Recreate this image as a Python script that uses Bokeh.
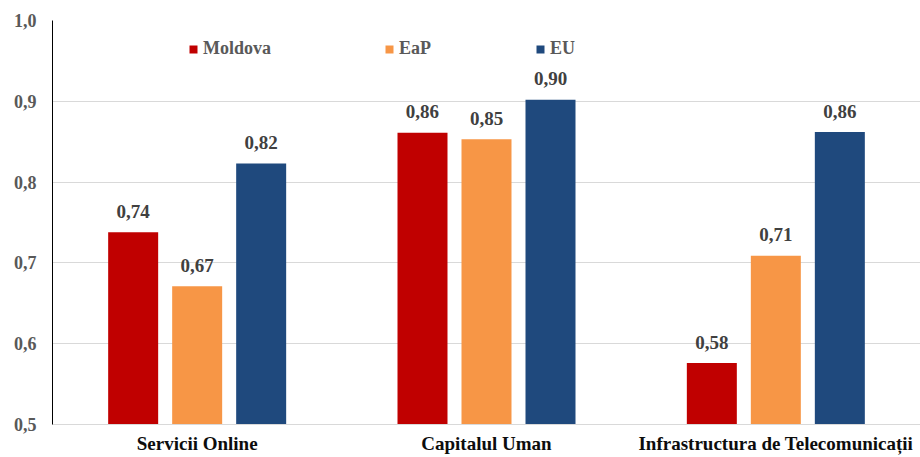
from bokeh.plotting import figure
from bokeh.models import (ColumnDataSource, Range1d, FixedTicker, CustomJSTickFormatter,
                          Legend, LegendItem)
from bokeh.transform import dodge
from bokeh.core.properties import value
from bokeh.embed import file_html
from bokeh.resources import INLINE

categories = ["Servicii Online", "Capitalul Uman", "Infrastructura de Telecomunicații"]
series_names = ["Moldova", "EaP", "EU"]
moldova = [0.738, 0.861, 0.576]
eap = [0.671, 0.853, 0.709]
eu = [0.823, 0.902, 0.862]
y_ticks = [0.5, 0.6, 0.7, 0.8, 0.9, 1.0]

colors = ["#C00000", "#F79646", "#1F497D"]
FONT = "Liberation Serif"

xpos = [i + 0.5 for i in range(len(categories))]
src = ColumnDataSource(dict(
    x=xpos,
    Moldova=moldova, EaP=eap, EU=eu,
    Moldova_lbl=[f"{v:.2f}".replace(".", ",") for v in moldova],
    EaP_lbl=[f"{v:.2f}".replace(".", ",") for v in eap],
    EU_lbl=[f"{v:.2f}".replace(".", ",") for v in eu],
))

W, H = 920, 457
TOP, BOTTOM, LEFT = 20, 33, 52
p = figure(width=W, height=H, output_backend="svg", toolbar_location=None,
           x_range=Range1d(0, 3.0), y_range=Range1d(0.5, 1.0))
p.min_border_left = LEFT
p.min_border_right = 0
p.min_border_top = TOP
p.min_border_bottom = BOTTOM
p.outline_line_color = None
p.background_fill_color = "white"
p.border_fill_color = "white"

bw = 0.1728
offs = [-0.2212, 0.0, 0.2212]
renderers = []
for name, col, off in zip(series_names, colors, offs):
    r = p.vbar(x=dodge("x", off, range=p.x_range), top=name, bottom=0.5, width=bw,
               source=src, fill_color=col, line_color=None)
    renderers.append(r)
    p.text(x=dodge("x", off, range=p.x_range), y=name, text=name + "_lbl", source=src,
           text_align="center", text_baseline="alphabetic", y_offset=-21,
           text_font=value(FONT), text_font_style="bold", text_font_size="19px",
           text_color="#404040")

# axes
p.yaxis.ticker = FixedTicker(ticks=y_ticks)
p.yaxis.formatter = CustomJSTickFormatter(code="return tick.toFixed(1).replace('.', ',');")
p.yaxis.axis_line_color = "black"
p.yaxis.axis_line_width = 1
p.yaxis.major_tick_line_color = None
p.yaxis.minor_tick_line_color = None
p.yaxis.major_tick_out = 0
p.yaxis.major_tick_in = 0
p.yaxis.minor_tick_out = 0
p.yaxis.major_label_standoff = 16
p.yaxis.major_label_text_font = FONT
p.yaxis.major_label_text_font_style = "bold"
p.yaxis.major_label_text_font_size = "18px"
p.yaxis.major_label_text_color = "#595959"

p.xaxis.ticker = FixedTicker(ticks=xpos)
p.xaxis.formatter = CustomJSTickFormatter(args=dict(names=categories),
                                          code="return names[Math.floor(tick)];")
p.xaxis.axis_line_color = "#D9D9D9"
p.xaxis.major_tick_line_color = None
p.xaxis.minor_tick_line_color = None
p.xaxis.major_tick_out = 0
p.xaxis.major_tick_in = 0
p.xaxis.minor_tick_out = 0
p.xaxis.major_label_standoff = 8
p.xaxis.major_label_text_font = FONT
p.xaxis.major_label_text_font_style = "bold"
p.xaxis.major_label_text_font_size = "19px"
p.xaxis.major_label_text_color = "#0D0D0D"

p.xgrid.grid_line_color = None
p.ygrid.ticker = FixedTicker(ticks=y_ticks)
p.ygrid.grid_line_color = "#D9D9D9"
p.ygrid.grid_line_width = 1

# legends (one per item, positioned like the reference)
frame_h = H - TOP - BOTTOM
leg_x = [136, 332, 483]
for name, r, lx in zip(series_names, renderers, leg_x):
    leg = Legend(items=[LegendItem(label=name, renderers=[r])],
                 location=(lx, frame_h - 39), orientation="horizontal",
                 glyph_width=10, glyph_height=10, label_standoff=5,
                 label_height=20, padding=0, margin=0, spacing=0,
                 border_line_color=None, background_fill_alpha=0,
                 label_text_font=FONT, label_text_font_style="bold",
                 label_text_font_size="18px", label_text_color="#595959")
    p.add_layout(leg, "center")

open("out.html", "w").write(file_html(p, INLINE))
